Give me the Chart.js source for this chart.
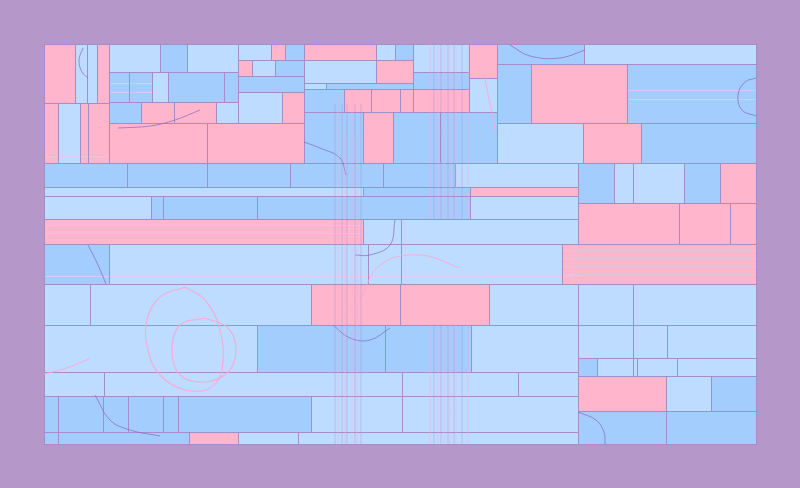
<!DOCTYPE html>
<html>
<head>
<meta charset="utf-8">
<script src="https://cdn.jsdelivr.net/npm/chart.js@4"></script>
<style>
  body { margin: 0; background: #b697c9; }
  canvas { display: block; }
</style>
</head>
<body>
<canvas id="tiles" width="800" height="488"></canvas>
<script>
// tiles: [x0, y0, x1, y1] in chart units (x 0..712, y 0..400 from the top)
const pinkTiles = [
  [0,0,31,59],[53,0,65,59],[0,59,14,119],[36,59,44,119],[44,59,65,119],
  [194,16,208,32],[227,0,241,16],[238,48,260,79],[97,58,130,79],[130,58,172,79],
  [65,79,163,119],[163,79,260,119],[260,0,332,16],[332,16,369,39],
  [300,45,327,68],[327,45,356,68],[356,45,369,68],[369,45,425,68],[425,0,453,34],
  [319,68,349,119],[487,20,583,79],[539,79,597,119],[676,119,712,159],
  [426,143,534,152],[0,175,319,200],[534,159,635,200],[635,159,686,200],[686,159,712,200],
  [518,200,712,240],[267,240,356,281],[356,240,445,281],[145,388,194,400],[534,332,622,367]
];
const lightTiles = [
  [31,0,43,59],[43,0,53,59],[14,59,36,119],[65,0,116,28],[143,0,194,28],[194,0,227,16],
  [208,16,231,32],[108,28,124,58],[194,48,238,79],[172,58,194,79],[332,0,351,16],
  [369,0,425,28],[260,16,332,39],[260,39,282,45],[425,34,453,68],[540,0,712,20],
  [453,79,539,119],[411,119,534,143],[0,143,319,152],[0,152,107,175],[426,152,534,175],
  [570,119,589,159],[589,119,640,159],[319,175,357,200],[357,175,534,200],
  [65,200,324,240],[324,200,357,240],[357,200,518,240],
  [0,240,46,281],[46,240,267,281],[445,240,534,281],[534,240,589,281],[589,240,712,281],
  [0,281,213,328],[427,281,534,328],[534,281,589,314],[589,281,623,314],[623,281,712,314],
  [553,314,589,332],[589,314,593,332],[593,314,633,332],[633,314,712,332],
  [0,328,60,352],[60,328,358,352],[358,328,474,352],[474,328,534,352],
  [267,352,358,388],[358,352,534,388],[194,388,254,400],[254,388,534,400],[622,332,667,367]
];
const blueTiles = [
  [116,0,143,28],[231,16,260,32],[241,0,260,16],[65,28,85,58],[85,28,108,58],[124,28,180,58],[180,28,194,58],
  [194,32,260,48],[65,58,97,79],[351,0,369,16],[282,39,369,45],[260,45,300,68],[369,28,425,45],
  [260,68,319,119],[349,68,396,119],[396,68,453,119],[453,0,540,20],[453,20,487,79],[583,20,712,79],[597,79,712,119],
  [0,119,83,143],[83,119,163,143],[163,119,246,143],[246,119,339,143],[339,119,411,143],
  [319,143,426,152],[107,152,119,175],[119,152,213,175],[213,152,426,175],[534,119,570,159],[640,119,676,159],
  [0,200,65,240],[213,281,341,328],[341,281,427,328],[534,314,553,332],
  [0,352,14,388],[14,352,59,388],[59,352,84,388],[84,352,119,388],[119,352,134,388],[134,352,267,388],
  [0,388,14,400],[14,388,145,400],[667,332,712,367],[534,367,622,400],[622,367,712,400]
];

// thin vertical streaks: x, from y, to y
const streakX = [291, 294, 298, 301, 303, 308, 311, 313, 317];
const streakFrom = [60, 40, 60, 90, 60, 40, 60, 90, 60];
const streakX2 = [386, 390, 394, 397, 400, 404, 406, 410, 412, 418, 424];
// faint horizontal lines inside some tiles: y, from x, to x
const hLineY = [181, 189, 206, 214, 222, 230, 46, 55, 39, 48, 112, 232, 241];
const hLineFrom = [0, 0, 518, 518, 518, 518, 583, 583, 65, 65, 0, 0, 534];
const hLineTo = [319, 319, 712, 712, 712, 712, 712, 712, 108, 108, 65, 534, 712];

// curves, [x, y] points
const loopOuter = [[141,243],[116,253],[103,276],[104,306],[116,331],[141,346],[166,344],[178,326],[176,286],[161,256],[141,243]];
const loopInner = [[161,274],[136,281],[128,306],[136,331],[161,338],[184,328],[192,306],[184,284],[161,274]];
const arcUnder = [[289,281],[306,294],[326,296],[346,284]];
const arcRight = [[712,34],[701,38],[694,51],[698,66],[712,72]];
const arcCorner = [[534,368],[552,376],[560,388],[561,400]];
const arcTop = [[466,1],[486,12],[516,14],[541,6]];
const arcLeft = [[39,4],[35,16],[38,28],[44,34]];
const sweep1 = [[74,84],[106,82],[131,76],[156,66]];
const sweep2 = [[260,98],[276,104],[296,114],[302,131]];
const sweep3 = [[351,176],[346,201],[326,211],[311,211]];
const sweep4 = [[51,351],[66,376],[86,386],[116,392]];
const sweep5 = [[316,256],[336,221],[376,211],[416,224]];
const sweep6 = [[44,201],[54,221],[62,240]];
const sweep7 = [[0,330],[20,325],[45,315]];
const sweep8 = [[440,30],[446,60],[452,90]];

const PINK = '#ffb5cb';
const LIGHT = '#bddcff';
const BLUE = '#a2cdfd';
const EDGE = '#a68dc7';

const tilePlugin = {
  id: 'tilePlugin',
  beforeDatasetsDraw(chart) {
    const {ctx, scales: {x, y}} = chart;
    const box = t => {
      const x0 = Math.round(x.getPixelForValue(t[0]));
      const x1 = Math.round(x.getPixelForValue(t[2]));
      const y0 = Math.round(y.getPixelForValue(t[1]));
      const y1 = Math.round(y.getPixelForValue(t[3]));
      return [x0, y0, x1 - x0, y1 - y0];
    };
    ctx.save();
    [[lightTiles, LIGHT], [blueTiles, BLUE], [pinkTiles, PINK]].forEach(([list, col]) => {
      ctx.fillStyle = col;
      list.forEach(t => ctx.fillRect(...box(t)));
    });
    // faint lines inside tiles
    ctx.strokeStyle = 'rgba(230,200,235,0.8)';
    hLineY.forEach((v, i) => {
      const py = Math.round(y.getPixelForValue(v)) + 0.5;
      ctx.beginPath();
      ctx.moveTo(x.getPixelForValue(hLineFrom[i]), py);
      ctx.lineTo(x.getPixelForValue(hLineTo[i]), py);
      ctx.stroke();
    });
    ctx.strokeStyle = EDGE;
    ctx.lineWidth = 1;
    [lightTiles, blueTiles, pinkTiles].forEach(list => {
      list.forEach(t => {
        const b = box(t);
        ctx.strokeRect(b[0] + 0.5, b[1] + 0.5, b[2], b[3]);
      });
    });
    ctx.restore();
  }
};

function curve(pts, color, width) {
  return {
    data: pts.map(p => ({x: p[0], y: p[1]})),
    showLine: true,
    borderColor: color,
    borderWidth: width,
    pointRadius: 0,
    tension: 0.4
  };
}

const purple = 'rgba(140,110,190,0.75)';
const pinkLine = 'rgba(255,165,210,0.85)';
const streakPink = 'rgba(255,170,215,0.5)';
const streakPurple = 'rgba(170,140,210,0.4)';

const datasets = [];
streakX.forEach((v, i) => datasets.push(curve([[v, streakFrom[i]], [v, 400]], i % 2 ? streakPink : streakPurple, 1)));
streakX2.forEach((v, i) => {
  const col = i % 2 ? streakPurple : streakPink;
  datasets.push(curve([[v, 0], [v, 175]], col, 1));
  datasets.push(curve([[v, 281], [v, 400]], col, 1));
});
datasets.push(curve(loopOuter, pinkLine, 1.2));
datasets.push(curve(loopInner, pinkLine, 1.2));
datasets.push(curve(arcUnder, purple, 1));
datasets.push(curve(arcRight, purple, 1));
datasets.push(curve(arcCorner, purple, 1));
datasets.push(curve(arcTop, purple, 1));
datasets.push(curve(arcLeft, purple, 1));
datasets.push(curve(sweep1, purple, 1));
datasets.push(curve(sweep2, purple, 1));
datasets.push(curve(sweep3, purple, 1));
datasets.push(curve(sweep4, purple, 1));
datasets.push(curve(sweep5, pinkLine, 1));
datasets.push(curve(sweep6, purple, 1));
datasets.push(curve(sweep7, pinkLine, 1));
datasets.push(curve(sweep8, pinkLine, 1));

new Chart(document.getElementById('tiles'), {
  type: 'scatter',
  data: { datasets: datasets },
  options: {
    responsive: false,
    animation: false,
    devicePixelRatio: 1,
    layout: { padding: 44 },
    plugins: { legend: { display: false }, tooltip: { enabled: false } },
    scales: {
      x: { type: 'linear', min: 0, max: 712, display: false },
      y: { type: 'linear', min: 0, max: 400, reverse: true, display: false }
    }
  },
  plugins: [tilePlugin]
});
</script>
</body>
</html>
